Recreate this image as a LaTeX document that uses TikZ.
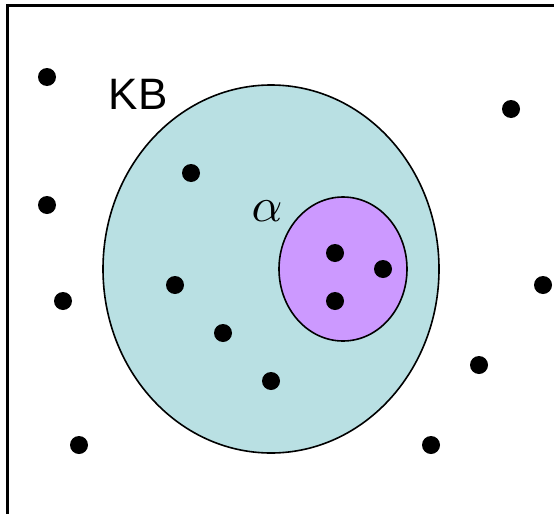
\documentclass[tikz,border=0pt]{standalone}
\usepackage{fontspec}
\setmainfont{Liberation Sans}
\usetikzlibrary{shapes.geometric}
\definecolor{kbfill}{RGB}{185,224,227}
\definecolor{alphafill}{RGB}{204,153,255}
\begin{document}
\begin{tikzpicture}[x=1pt, y=-1pt, every node/.style={inner sep=0pt},
    dot/.style={circle, fill=black, minimum size=18pt}]
    \useasboundingbox (0,0) rectangle (554,514);
    \coordinate (topleft) at (7,5);
    \coordinate (topright) at (554,5);
    \coordinate (botleft) at (7,514);
    \draw[line width=3pt] (topright) -- (topleft) -- (botleft);
    \node[draw, line width=1.6pt, ellipse, fill=kbfill, minimum width=336pt, minimum height=368pt] (kb) at (271,269) {};
    \node[draw, line width=1.6pt, ellipse, fill=alphafill, minimum width=128pt, minimum height=144pt] (alpha) at (343,269) {};
    \node[font=\fontsize{44}{44}\selectfont] (kblabel) at (138,94) {KB};
    \node[scale=4.8] (alphalabel) at (267,211) {$\alpha$};
    \foreach \x/\y [count=\i] in {47/77, 511/109, 191/173, 47/205, 63/301, 175/285, 543/285, 223/333, 271/381, 479/365, 79/445, 431/445, 335/253, 383/269, 335/301}
        \node[dot] (d\i) at (\x,\y) {};
\end{tikzpicture}
\end{document}
